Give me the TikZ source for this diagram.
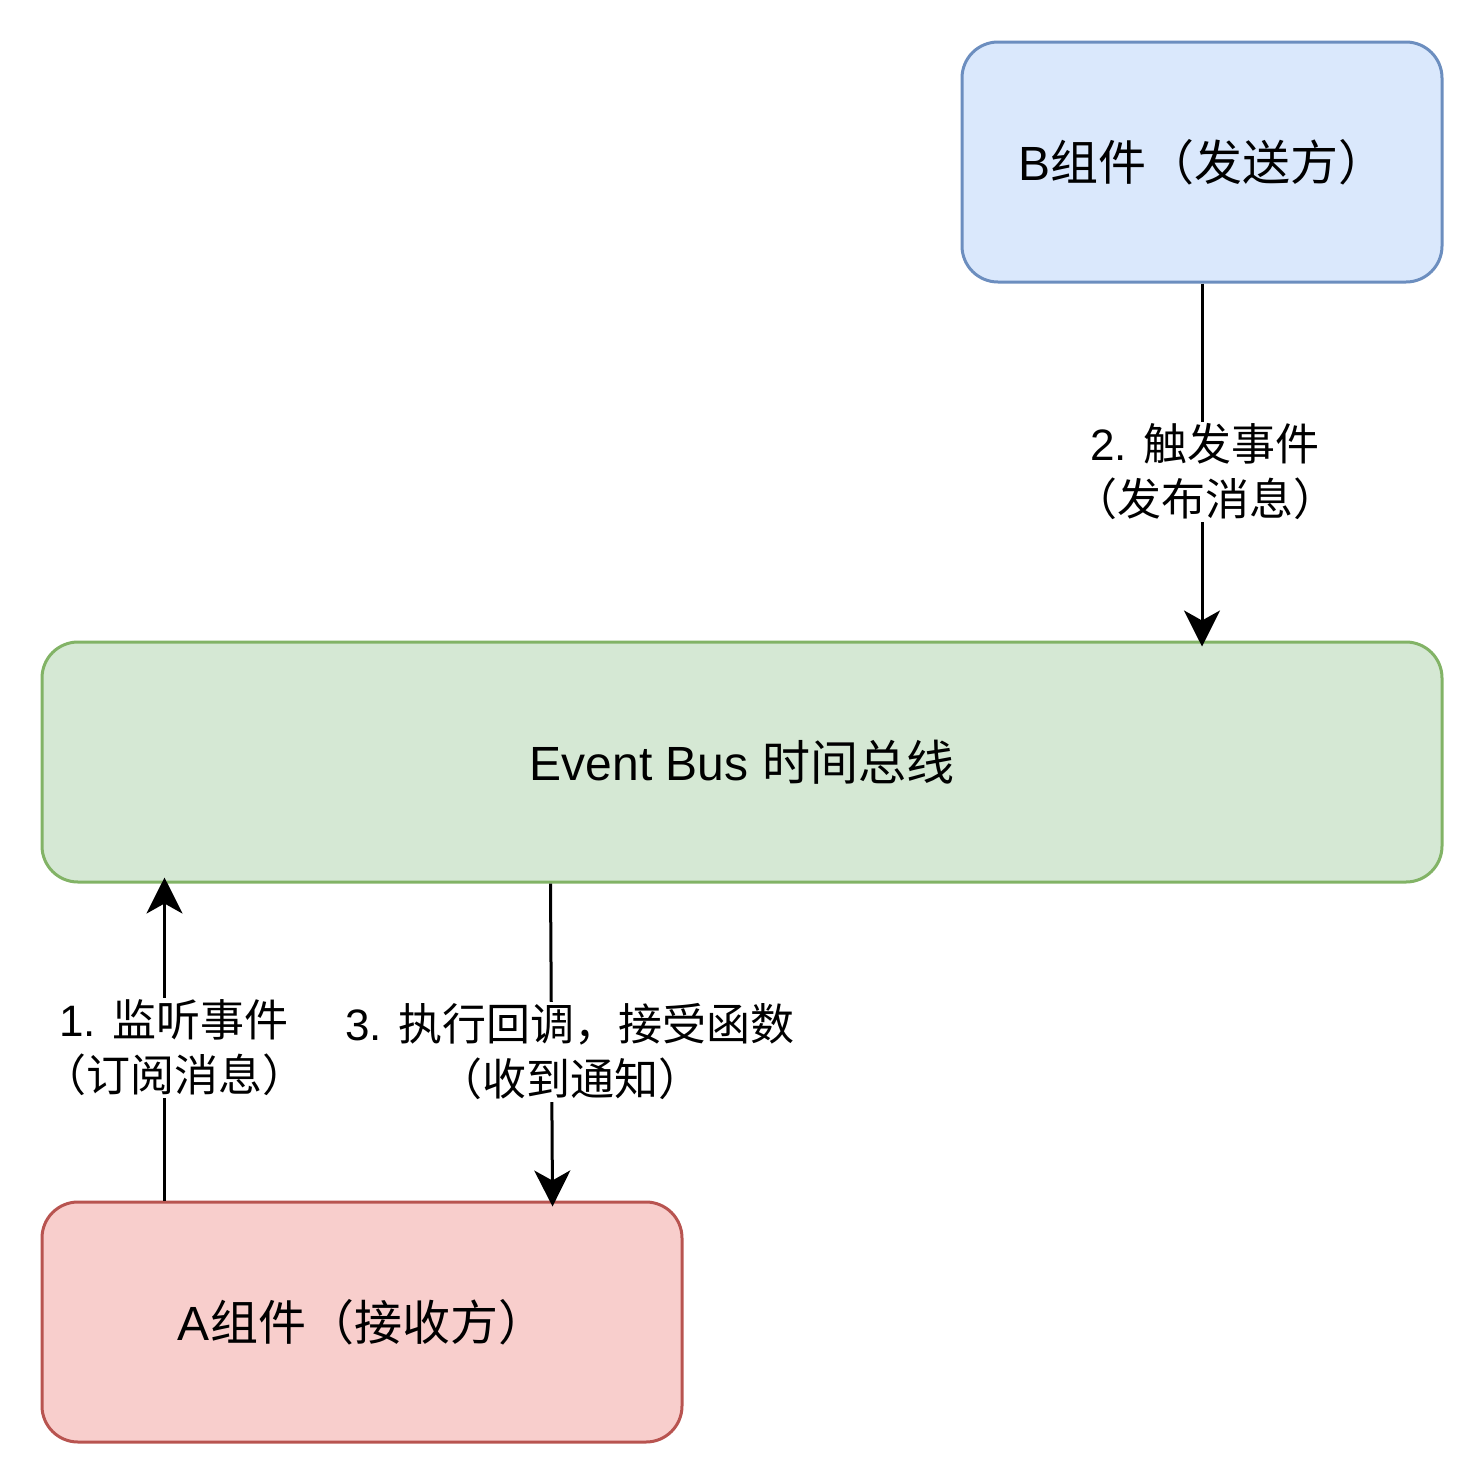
\documentclass[tikz,border=0pt]{standalone}
\usepackage{fontspec}
\setmainfont{Liberation Sans}
\newfontfamily\cjk{Noto Sans CJK SC}
\usetikzlibrary{arrows.meta,calc}
\definecolor{bfill}{HTML}{DAE8FC}\definecolor{bdraw}{HTML}{6C8EBF}
\definecolor{gfill}{HTML}{D5E8D4}\definecolor{gdraw}{HTML}{82B366}
\definecolor{rfill}{HTML}{F8CECC}\definecolor{rdraw}{HTML}{B85450}
\begin{document}
\begin{tikzpicture}[x=0.5pt,y=-0.5pt,
  box/.style={rectangle,rounded corners=18pt,line width=1.5pt,inner sep=0pt,
    font=\fontsize{24}{29}\selectfont},
  conn/.style={line width=1.5pt,-{Stealth[length=18pt,width=18pt,inset=5pt]},shorten >=-3pt},
  lbl/.style={fill=white,inner sep=1pt,align=center,font=\fontsize{22}{27.5}\selectfont}]
\useasboundingbox (0,0) rectangle (1484,1484);
\node[box,fill=bfill,draw=bdraw,minimum width=240pt,minimum height=120pt] (B) at (1202,162) {B{\cjk 组件（发送方）}};
\node[box,fill=gfill,draw=gdraw,minimum width=700pt,minimum height=120pt] (bus) at (742,762) {Event Bus {\cjk 时间总线}};
\node[box,fill=rfill,draw=rdraw,minimum width=320pt,minimum height=120pt] (A) at (362,1322) {A{\cjk 组件（接收方）}};
\coordinate (a1) at ($(A.north west)+(124,0)$);
\coordinate (b1) at ($(bus.south west)+(124,0)$);
\coordinate (b3) at ($(bus.south west)+(510,0)$);
\coordinate (a3) at ($(A.north west)+(512,0)$);
\draw[conn] (B.south) -- (B.south |- bus.north);
\draw[conn] (a1) -- (b1);
\draw[conn] (b3) -- (a3);
\node[lbl] (l2) at (1205,472) {2. {\cjk 触发事件}\\{\cjk （发布消息）}};
\node[lbl] (l1) at (174,1048) {1. {\cjk 监听事件}\\{\cjk （订阅消息）}};
\node[lbl] (l3) at (570,1052) {3. {\cjk 执行回调，接受函数}\\{\cjk （收到通知）}};
\end{tikzpicture}
\end{document}
